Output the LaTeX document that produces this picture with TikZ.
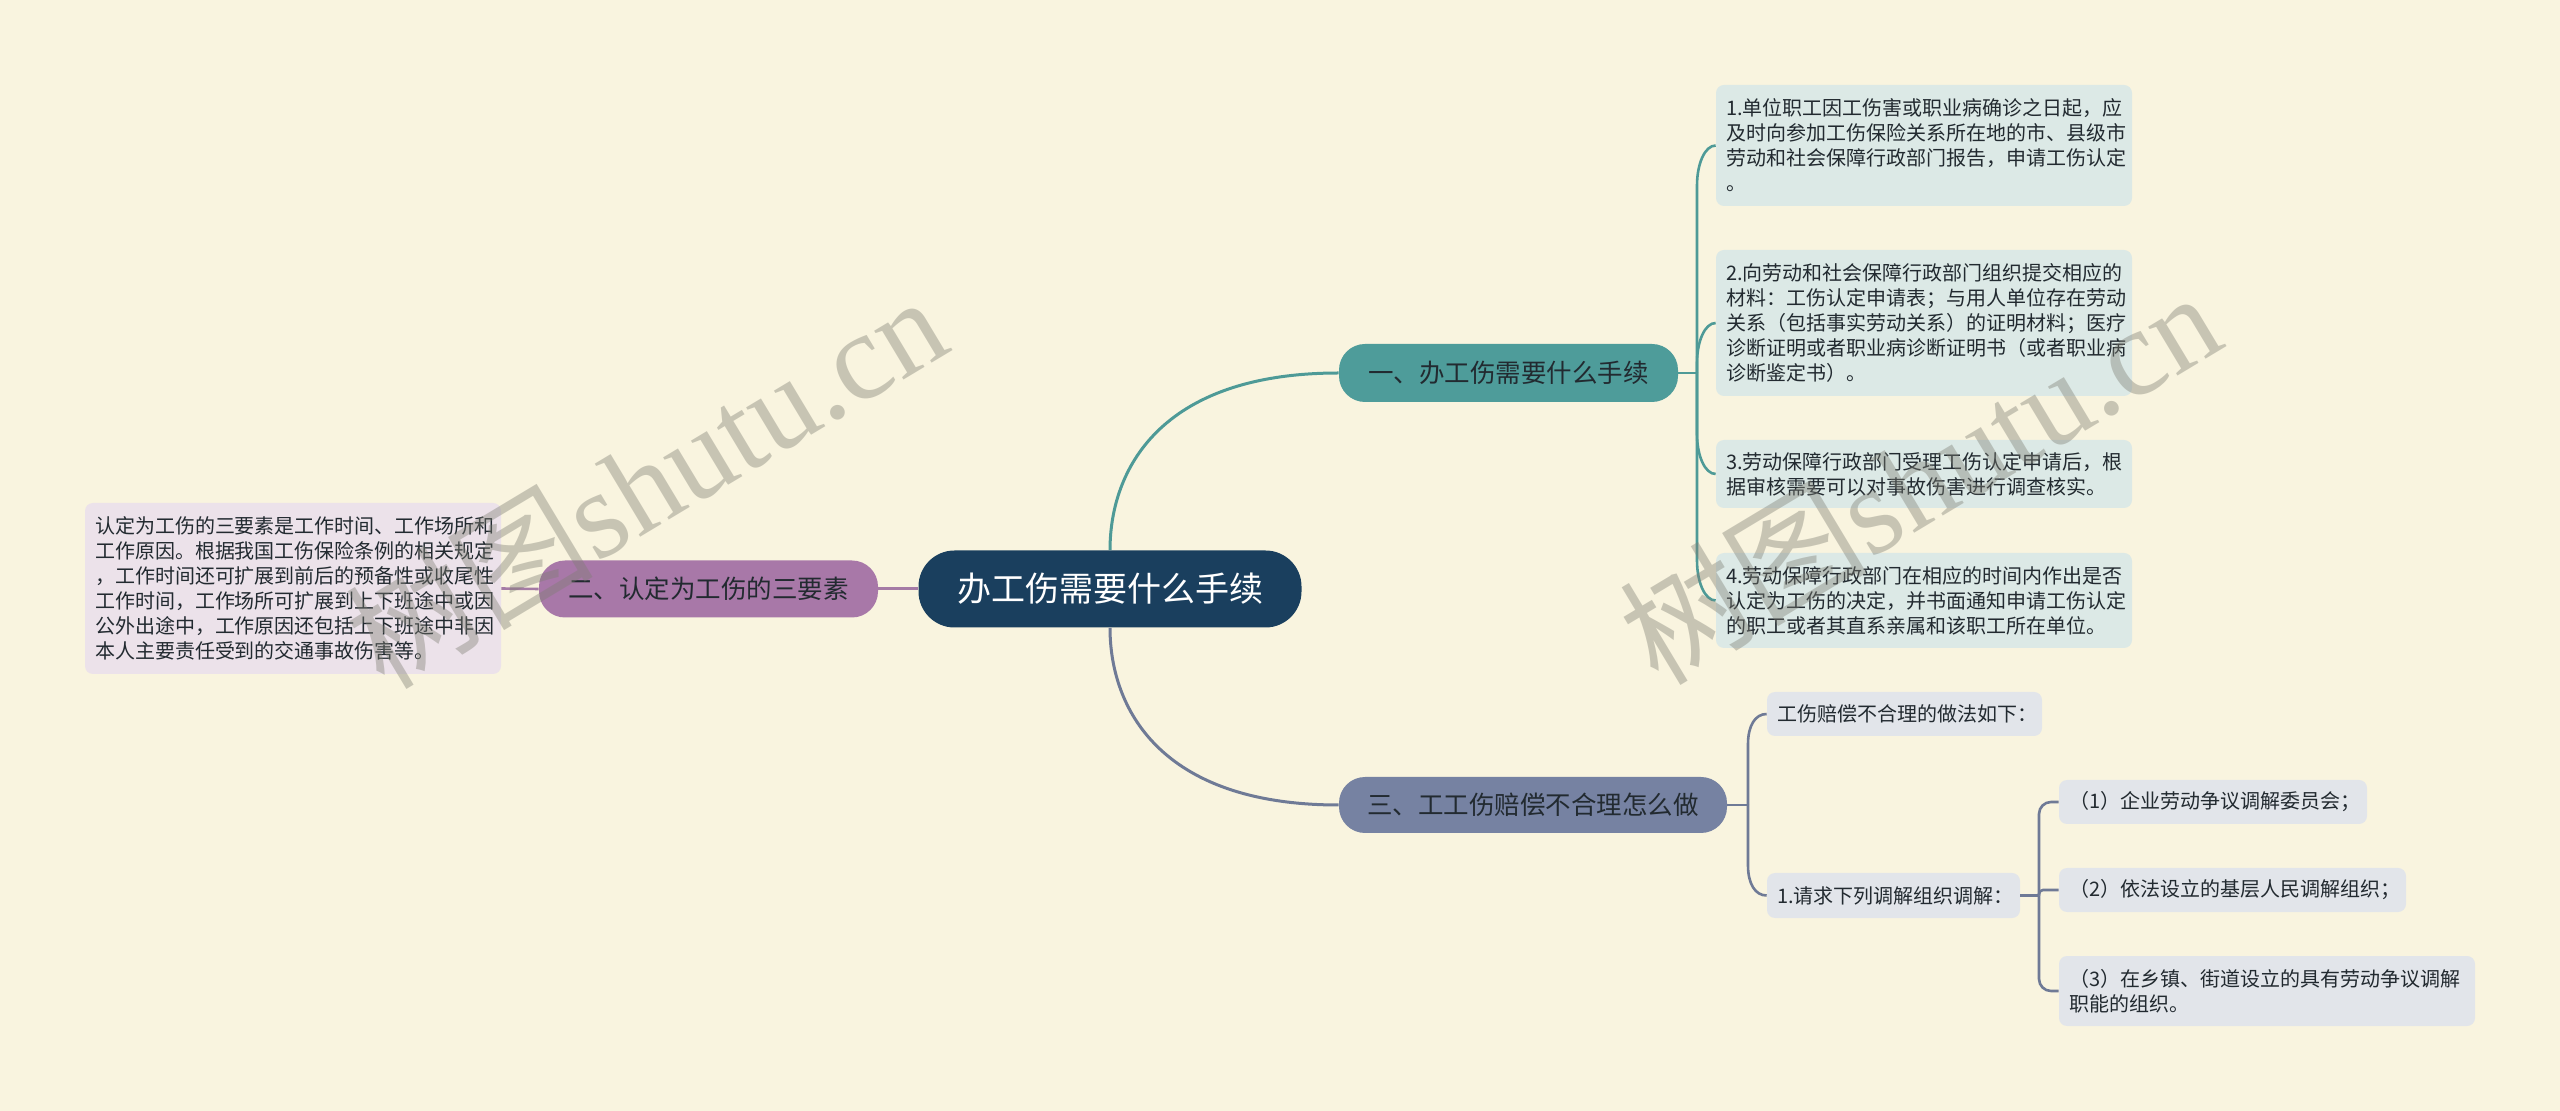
\documentclass[tikz,border=0pt]{standalone}
\usepackage{fontspec}
\newfontfamily\cjk{Noto Sans CJK SC}
\newfontfamily\wmlat{Liberation Serif}
\usetikzlibrary{calc}
\definecolor{bgc}{HTML}{F9F4DF}
\definecolor{navyN}{HTML}{1A3F5E}
\definecolor{tealN}{HTML}{4E9C9A}
\definecolor{purN}{HTML}{A878A8}
\definecolor{slaN}{HTML}{7682A2}
\definecolor{tealL}{HTML}{DCE9E6}
\definecolor{purL}{HTML}{ECE2EA}
\definecolor{slaL}{HTML}{E2E5EA}
\definecolor{tealLn}{HTML}{4E9A97}
\definecolor{purLn}{HTML}{A57BA5}
\definecolor{slaLn}{HTML}{6F7A96}
\definecolor{darktxt}{HTML}{222A30}
\definecolor{wmc}{RGB}{126,126,115}
\tikzset{
  central/.style={fill=navyN, text=white, rounded corners=18pt, inner sep=0pt,
    minimum width=191.5pt, minimum height=38.5pt, font=\cjk\fontsize{17pt}{20pt}\selectfont},
  branch/.style={rounded corners=13pt, inner sep=0pt, text=darktxt,
    font=\cjk\fontsize{12.75pt}{15pt}\selectfont},
  leaf/.style={rounded corners=4pt, inner xsep=5pt, inner ysep=0pt, align=left, text=darktxt,
    font=\cjk\fontsize{10pt}{12.5pt}\selectfont},
  tealline/.style={draw=tealLn, line width=1.3pt},
  purline/.style={draw=purLn, line width=1.3pt},
  slaline/.style={draw=slaLn, line width=1.3pt},
  mainline/.style={line width=1.5pt},
  wm/.style={text=wmc, text opacity=0.4, inner sep=0pt, font=\wmlat\fontsize{62pt}{62pt}\selectfont}
}
\begin{document}
\begin{tikzpicture}[x=0.5pt,y=-0.5pt]
\useasboundingbox (0,0) rectangle (2560,1111);
\fill[bgc] (0,0) rectangle (2560,1111);

% central
\node[central] (c) at (1110,589) {办工伤需要什么手续};

% branches
\node[branch, fill=tealN, minimum width=169.5pt, minimum height=29pt] (b1) at (1508.5,373) {一、办工伤需要什么手续};
\node[branch, fill=purN, minimum width=169.5pt, minimum height=28.5pt] (b2) at (708.5,589) {二、认定为工伤的三要素};
\node[branch, fill=slaN, minimum width=194pt, minimum height=28pt] (b3) at (1533,805) {三、工工伤赔偿不合理怎么做};

% teal leaves
\node[leaf, fill=tealL, text width=198pt, minimum height=60.5pt] (t1) at (1924,145.5) {1.单位职工因工伤害或职业病确诊之日起，应\\及时向参加工伤保险关系所在地的市、县级市\\劳动和社会保障行政部门报告，申请工伤认定\\。};
\node[leaf, fill=tealL, text width=198pt, minimum height=73pt] (t2) at (1924,323) {2.向劳动和社会保障行政部门组织提交相应的\\材料：工伤认定申请表；与用人单位存在劳动\\关系（包括事实劳动关系）的证明材料；医疗\\诊断证明或者职业病诊断证明书（或者职业病\\诊断鉴定书）。};
\node[leaf, fill=tealL, text width=198pt, minimum height=34pt] (t3) at (1924,474) {3.劳动保障行政部门受理工伤认定申请后，根\\据审核需要可以对事故伤害进行调查核实。};
\node[leaf, fill=tealL, text width=198pt, minimum height=47.5pt] (t4) at (1924,600.5) {4.劳动保障行政部门在相应的时间内作出是否\\认定为工伤的决定，并书面通知申请工伤认定\\的职工或者其直系亲属和该职工所在单位。};

% purple leaf
\node[leaf, fill=purL, text width=198pt, minimum height=85.5pt] (p1) at (293,588.5) {认定为工伤的三要素是工作时间、工作场所和\\工作原因。根据我国工伤保险条例的相关规定\\，工作时间还可扩展到前后的预备性或收尾性\\工作时间，工作场所可扩展到上下班途中或因\\公外出途中，工作原因还包括上下班途中非因\\本人主要责任受到的交通事故伤害等。};

% slate leaves
\node[leaf, fill=slaL, text width=127.5pt, minimum height=22pt] (s1) at (1904.5,714) {工伤赔偿不合理的做法如下：};
\node[leaf, fill=slaL, text width=116.5pt, minimum height=22.5pt] (s2) at (1893.5,895.5) {1.请求下列调解组织调解：};
\node[leaf, fill=slaL, text width=144pt, minimum height=22pt] (s3) at (2213,802) {（1）企业劳动争议调解委员会；};
\node[leaf, fill=slaL, text width=163.5pt, minimum height=22pt] (s4) at (2232.5,890) {（2）依法设立的基层人民调解组织；};
\node[leaf, fill=slaL, text width=198pt, minimum height=35pt] (s5) at (2267,991) {（3）在乡镇、街道设立的具有劳动争议调解\\职能的组织。};

% main connectors
\draw[tealline, mainline] (c.north) to[out=90, in=180, out distance=40pt, in distance=89.5pt] (b1.west);
\draw[slaline, mainline] (c.south) to[out=-90, in=180, out distance=40pt, in distance=89.5pt] (b3.west);
\draw[purline, mainline] (c.west) -- (b2.east);
\draw[purline] (b2.west) -- (p1.east);

% teal sub-connectors
\coordinate (j1) at (1697,373);
\draw[tealline] (b1.east) -- (j1);
\draw[tealline] (j1) -- (1697,185.5) .. controls (1697,163.5) and (1705,145.5) .. (t1.west);
\draw[tealline] (j1) -- (1697,363) .. controls (1697,341) and (1705,323) .. (t2.west);
\draw[tealline] (j1) -- (1697,434) .. controls (1697,456) and (1705,474) .. (t3.west);
\draw[tealline] (j1) -- (1697,560.5) .. controls (1697,582.5) and (1705,600.5) .. (t4.west);

% slate sub-connectors
\coordinate (j3) at (1748,805);
\draw[slaline] (b3.east) -- (j3);
\draw[slaline] (j3) -- (1748,744) .. controls (1748,726) and (1755,714) .. (s1.west);
\draw[slaline] (j3) -- (1748,865.5) .. controls (1748,883.5) and (1755,895.5) .. (s2.west);

\coordinate (j4) at (2039,895.5);
\draw[slaline] (s2.east) -- (j4);
\draw[slaline, rounded corners=6pt] (j4) |- (s3.west);
\draw[slaline, rounded corners=6pt] (j4) |- (s5.west);
\draw[slaline, rounded corners=2pt] (j4) |- (s4.west);

% watermarks
\node[wm, rotate=31] (wm1) at (645,480) {{\cjk 树图}shutu.cn};
\node[wm, rotate=31] (wm2) at (1919,476) {{\cjk 树图}shutu.cn};
\end{tikzpicture}
\end{document}
